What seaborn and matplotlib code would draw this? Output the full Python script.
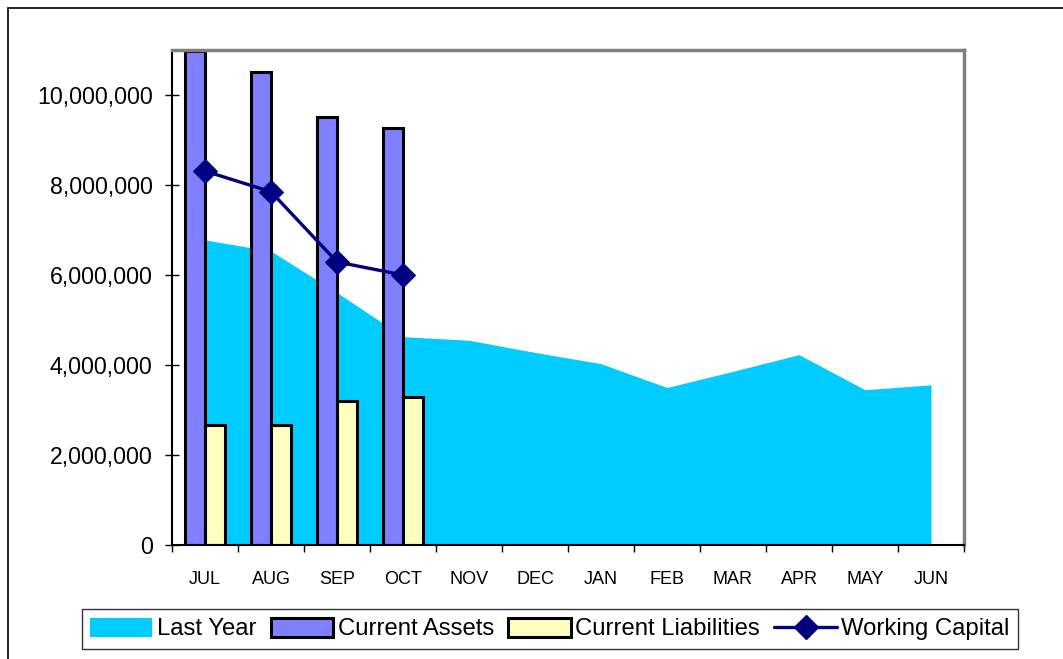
import numpy as np
import pandas as pd
import matplotlib
matplotlib.use("Agg")
import matplotlib.pyplot as plt
import seaborn as sns
from matplotlib.lines import Line2D
from matplotlib.patches import Patch, Rectangle
from matplotlib.ticker import FuncFormatter

months = ["JUL", "AUG", "SEP", "OCT", "NOV", "DEC", "JAN", "FEB", "MAR", "APR", "MAY", "JUN"]
last_year = [6.78e6, 6.53e6, 5.61e6, 4.63e6, 4.55e6, 4.28e6, 4.03e6, 3.50e6, 3.86e6, 4.23e6, 3.45e6, 3.56e6]
cur_months = ["JUL", "AUG", "SEP", "OCT"]
current_assets = [10.97e6, 10.50e6, 9.52e6, 9.26e6]
current_liabilities = [2.66e6, 2.66e6, 3.19e6, 3.28e6]
working_capital = [8.31e6, 7.85e6, 6.29e6, 6.00e6]

sns.set_theme(style="white")
plt.rcParams['font.family'] = ['Liberation Sans', 'DejaVu Sans']
plt.rcParams['text.color'] = 'black'
plt.rcParams['xtick.color'] = 'black'
plt.rcParams['ytick.color'] = 'black'
plt.rcParams['xtick.labelcolor'] = 'black'
plt.rcParams['ytick.labelcolor'] = 'black'

W, H = 1063, 659
fig = plt.figure(figsize=(W / 100, H / 100), dpi=100)
ax = fig.add_axes([172 / W, (H - 545) / H, (964 - 172) / W, (545 - 50) / H])

# area (last year)
xs = np.arange(len(months))
ax.fill_between(xs, 0, last_year, color="#00CCFF", linewidth=0, zorder=1)

# bars
bars_df = pd.DataFrame({
    "month": cur_months * 2,
    "value": current_assets + current_liabilities,
    "series": ["Current Assets"] * 4 + ["Current Liabilities"] * 4,
})
sns.barplot(data=bars_df, x="month", y="value", hue="series", order=months,
            hue_order=["Current Assets", "Current Liabilities"],
            palette=["#8080FF", "#FFFFC0"], width=0.6, edgecolor="black",
            linewidth=2.2, saturation=1, legend=False, ax=ax, zorder=2)

# line
line_df = pd.DataFrame({"x": np.arange(len(cur_months)), "value": working_capital})
sns.lineplot(data=line_df, x="x", y="value", color="#000080", linewidth=2.4,
             marker="D", markersize=12.5, markeredgecolor="#000080", ax=ax, zorder=3)

ax.set_xlim(-0.5, 11.5)
ax.set_ylim(0, 11e6)
ax.set_xlabel("")
ax.set_ylabel("")

ax.set_yticks(np.arange(0, 10.5e6, 2e6))
ax.yaxis.set_major_formatter(FuncFormatter(lambda v, p: f"{int(v):,}"))
ax.tick_params(axis="y", direction="inout", length=10, width=1, color="black",
               labelsize=16.7, pad=9, left=True, labelcolor="black")

ax.set_xticks(np.arange(-0.5, 12, 1))
ax.set_xticklabels([])
ax.set_xticks(xs, minor=True)
ax.set_xticklabels(months, minor=True)
ax.tick_params(axis="x", which="major", direction="out", length=5, width=1,
               color="black", bottom=True)
ax.tick_params(axis="x", which="minor", length=0, labelsize=13, pad=19, labelcolor="black")

for s in ["top", "right"]:
    ax.spines[s].set_color("#808080")
    ax.spines[s].set_linewidth(2.5)
for s in ["left", "bottom"]:
    ax.spines[s].set_color("black")
    ax.spines[s].set_linewidth(1.5)
ax.grid(False)

handles = [
    Patch(facecolor="#00CCFF", edgecolor="none"),
    Patch(facecolor="#8080FF", edgecolor="black", linewidth=2.2),
    Patch(facecolor="#FFFFC0", edgecolor="black", linewidth=2.2),
    Line2D([0], [0], color="#000080", linewidth=2.4, marker="D", markersize=12.5),
]
labels = ["Last Year", "Current Assets", "Current Liabilities", "Working Capital"]
leg = fig.legend(handles, labels, loc="center", bbox_to_anchor=(550 / W, 1 - 629 / H),
                 ncol=4, fontsize=17.2, handlelength=2.6, handleheight=0.85,
                 handletextpad=0.2, columnspacing=0.6, frameon=True, fancybox=False,
                 borderpad=0.35, borderaxespad=0, labelcolor="black")
leg.get_frame().set_edgecolor("black")
leg.get_frame().set_linewidth(1)

fig.patches.append(Rectangle((8 / W, -0.1), 1.2, 1 - 8 / H + 0.1, transform=fig.transFigure,
                             fill=False, edgecolor="black", linewidth=1.2))

fig.savefig("out.png", dpi=100)
